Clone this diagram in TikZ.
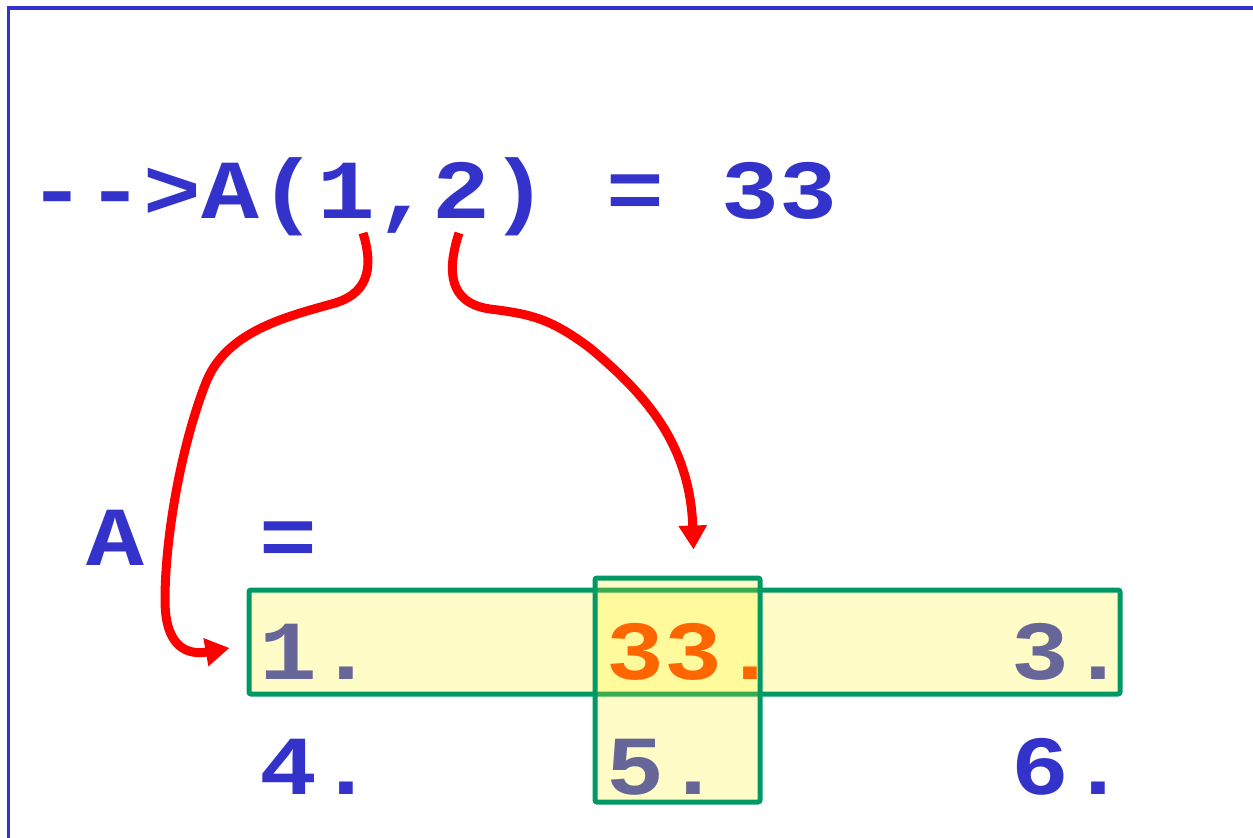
\documentclass[tikz,border=0pt]{standalone}
\usepackage{fontspec}
\usetikzlibrary{positioning, arrows.meta}
\newfontfamily\codefont[FakeStretch=1.147]{Liberation Mono Bold}
\definecolor{cmdblue}{HTML}{3333CC}
\definecolor{valgray}{HTML}{666699}
\definecolor{hitorange}{HTML}{FF6600}
\definecolor{boxgreen}{HTML}{009966}
\tikzset{
  codetext/.style = {anchor=base west, inner sep=0pt, text=cmdblue, font=\codefont\fontsize{84}{90}\selectfont},
  valtext/.style  = {codetext, text=valgray},
  hlbox/.style    = {draw=boxgreen, line width=5pt, rounded corners=2pt, fill=yellow, fill opacity=0.22, inner sep=0pt},
  redarrow/.style = {draw=red, line width=9pt, -{Triangle[length=24pt, width=27pt]}}
}

\begin{document}
\begin{tikzpicture}[x=1pt, y=-1pt]
  \useasboundingbox (0,0) rectangle (1253,838);
  \draw[cmdblue, line width=3.2pt] (8.2,8) rectangle (1280,860);

  % highlighted row and column of A
  \node[hlbox, minimum width=871pt, minimum height=104pt] (rowbox) at (684.5,642) {};
  \node[hlbox, minimum width=165pt, minimum height=224pt] (colbox) at (677.5,690) {};

  \node[codetext] (cmd) at (28,218) {-{}-{}>A(1,2) = 33};
  \node[codetext] (lhs) at (86,565) {A};
  \node[codetext] (eq)  at (259,565) {=};

  \node[valtext]                   (a11) at (259,679)  {1.};
  \node[valtext, text=hitorange]   (a12) at (606,679)  {33.};
  \node[valtext]                   (a13) at (1011,679) {3.};
  \node[codetext]                  (a21) at (259,794)  {4.};
  \node[valtext]                   (a22) at (606,794)  {5.};
  \node[codetext]                  (a23) at (1011,794) {6.};

  \coordinate (i1) at (363,233);
  \coordinate (i2) at (459,233);

  \draw[redarrow] (i1) .. controls (372,262) and (372,292) .. (335,303)
    .. controls (290,316) and (225,330) .. (205,385)
    .. controls (180,450) and (165,540) .. (165,600)
    .. controls (165,650) and (190,655) .. ([xshift=-17pt, yshift=-6pt]rowbox.west);
  \draw[redarrow] (i2) .. controls (447,270) and (448,303) .. (490,309)
    .. controls (530,314) and (550,318) .. (590,348)
    .. controls (640,390) and (690,440) .. ([xshift=16pt, yshift=26pt]colbox.north);
\end{tikzpicture}
\end{document}
